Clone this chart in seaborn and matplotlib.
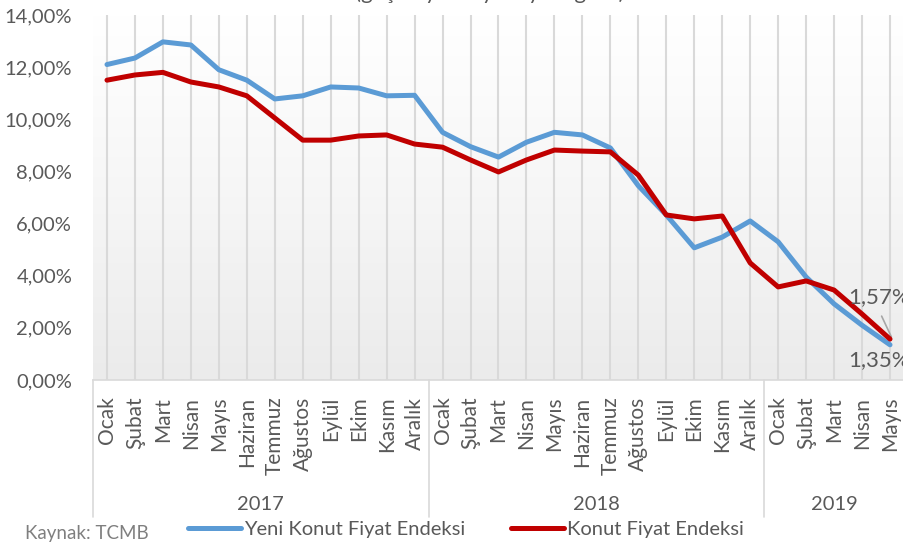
import numpy as np
import pandas as pd
import matplotlib
matplotlib.use("Agg")
import matplotlib.pyplot as plt
import seaborn as sns
from matplotlib.colors import LinearSegmentedColormap
from matplotlib.lines import Line2D

# --- data (annual % change) ---
months = ["Ocak", "Şubat", "Mart", "Nisan", "Mayıs", "Haziran", "Temmuz",
          "Ağustos", "Eylül", "Ekim", "Kasım", "Aralık"]
years = ["2017", "2018", "2019"]
month_labels = months + months + months[:5]

yeni_konut = [12.10, 12.35, 12.97, 12.85, 11.90, 11.50, 10.78, 10.90, 11.24, 11.20,
              10.90, 10.92, 9.50, 8.95, 8.55, 9.12, 9.50, 9.40, 8.90, 7.45,
              6.33, 5.07, 5.48, 6.10, 5.30, 3.95, 2.92, 2.10, 1.35]
konut = [11.50, 11.70, 11.80, 11.43, 11.24, 10.90, 10.05, 9.20, 9.20, 9.36,
         9.40, 9.05, 8.93, 8.44, 7.98, 8.44, 8.82, 8.78, 8.75, 7.86,
         6.33, 6.18, 6.29, 4.49, 3.57, 3.80, 3.45, 2.53, 1.57]

name_yeni = "Yeni Konut Fiyat Endeksi"
name_konut = "Konut Fiyat Endeksi"

df = pd.DataFrame({
    "idx": list(range(len(yeni_konut))) * 2,
    "value": yeni_konut + konut,
    "series": [name_yeni] * len(yeni_konut) + [name_konut] * len(konut),
})

sns.set_theme(style="white")
plt.rcParams["font.family"] = ["Lato", "DejaVu Sans"]
txt = "#595959"

fig = plt.figure(figsize=(9.04, 5.44), dpi=100)
ax = fig.add_axes([93 / 904, 1 - 380 / 544, (904 - 93) / 904, 365 / 544])

# gradient plot-area fill
cmap = LinearSegmentedColormap.from_list("bg", ["#ebebeb", "#f6f6f6", "#ffffff"])
grad = np.linspace(0, 1, 256).reshape(-1, 1)
ax.imshow(grad, extent=[-0.5, 28.5, 0, 14], aspect="auto", cmap=cmap,
          origin="lower", zorder=0)

for i in range(len(month_labels)):
    ax.axvline(i, color="#d9d9d9", lw=1.5, zorder=1)

sns.lineplot(data=df, x="idx", y="value", hue="series", ax=ax,
             palette={name_yeni: "#5B9BD5", name_konut: "#C00000"},
             linewidth=3.6, legend=False, zorder=3)

ax.set_xlim(-0.5, 28.5)
ax.set_ylim(0, 14)
ax.set_yticks(np.arange(0, 15, 2))
ax.set_yticklabels([f"{v:.2f}%".replace(".", ",") for v in np.arange(0, 15, 2)],
                   color=txt, fontsize=14.5)
ax.set_xticks(range(len(month_labels)))
ax.set_xticklabels(month_labels, rotation=90, color=txt, fontsize=15, va="top")
ax.tick_params(axis="both", length=0)
ax.tick_params(axis="y", pad=15)
ax.tick_params(axis="x", pad=12)
ax.set_xlabel("")
ax.set_ylabel("")
ax.grid(False)
for s in ["top", "right", "left"]:
    ax.spines[s].set_visible(False)
ax.spines["bottom"].set_color("#d9d9d9")
ax.spines["bottom"].set_linewidth(1.2)

# year separators and labels
for xs in [-0.5, 11.5, 23.5]:
    ax.plot([xs, xs], [0, -0.375], transform=ax.get_xaxis_transform(),
            color="#d9d9d9", lw=1.2, clip_on=False)
year_centers = [5.5, 17.5, 26]
for yr, xc in zip(years, year_centers):
    ax.text(xc, -0.34, yr, transform=ax.get_xaxis_transform(), ha="center",
            va="center", color=txt, fontsize=14.5)

# last-point labels
ax.text(27.6, 3.18, "1,57%", ha="center", va="center", color=txt, fontsize=16,
        clip_on=False, zorder=4)
ax.text(27.6, 0.77, "1,35%", ha="center", va="center", color=txt, fontsize=16,
        clip_on=False, zorder=4)
ax.plot([27.7, 28.05], [2.45, 1.65], color="#a6a6a6", lw=1.2, zorder=2)

# legend
handles = [Line2D([], [], color="#5B9BD5", lw=3.6),
           Line2D([], [], color="#C00000", lw=3.6)]
leg = fig.legend(handles, [name_yeni, name_konut], loc="center",
                 bbox_to_anchor=(466 / 904, 1 - 529 / 544), ncol=2, frameon=False,
                 fontsize=14.5, handlelength=2.65, handletextpad=0.15,
                 columnspacing=2.25, borderpad=0)
for t in leg.get_texts():
    t.set_color(txt)

fig.text(25 / 904, 1 - 533 / 544, "Kaynak: TCMB", ha="left", va="center",
         color="#7f7f7f", fontsize=13.5)

# title, mostly cut off at the top edge
fig.text(490 / 904, 1 + 1 / 544, "(geçen yılın aynı ayına göre)", ha="center",
         va="baseline", color=txt, fontsize=16)

fig.savefig("out.png", dpi=100)
